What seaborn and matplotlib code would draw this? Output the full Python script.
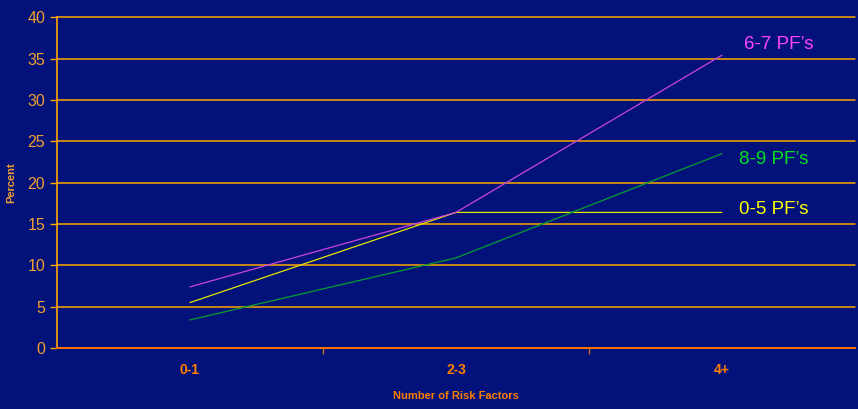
import matplotlib.pyplot as plt
import seaborn as sns
import pandas as pd

# data
categories = ["0-1", "2-3", "4+"]
series_names = ["0-5 PF\u2019s", "6-7 PF\u2019s", "8-9 PF\u2019s"]
pf_0_5 = [5.5, 16.4, 16.4]
pf_6_7 = [7.4, 16.4, 35.4]
pf_8_9 = [3.4, 10.9, 23.5]

rows = []
for name, vals in zip(series_names, [pf_0_5, pf_6_7, pf_8_9]):
    for c, v in zip(categories, vals):
        rows.append({"risk": c, "pct": v, "group": name})
df = pd.DataFrame(rows)

bg = "#02127A"
grid_col = "#FFA500"
line_cols = {series_names[0]: "#E6E600", series_names[1]: "#CC44DD", series_names[2]: "#00A030"}
text_cols = {series_names[0]: "#FFFF00", series_names[1]: "#FF44FF", series_names[2]: "#00E020"}

sns.set_style("white")
plt.rcParams['font.family'] = ['Liberation Sans', 'DejaVu Sans']

fig = plt.figure(figsize=(8.58, 4.09), dpi=100, facecolor=bg)
ax = fig.add_axes([0.0664, 0.149, 0.93, 0.809])
ax.set_facecolor(bg)

sns.lineplot(data=df, x="risk", y="pct", hue="group", palette=line_cols,
             linewidth=0.9, legend=False, ax=ax, sort=False)

ax.set_xlim(-0.5, 2.5)
ax.set_ylim(0, 40)
ax.set_yticks(range(0, 41, 5))
ax.yaxis.grid(True, color=grid_col, linewidth=1.1)
for gl in ax.get_ygridlines():
    gl.set_clip_on(False)
ax.set_axisbelow(True)

for s in ["top", "right"]:
    ax.spines[s].set_visible(False)
ax.spines["left"].set_color(grid_col)
ax.spines["left"].set_linewidth(1.2)
ax.spines["bottom"].set_color("#FF7000")
ax.spines["bottom"].set_linewidth(1.3)

ax.tick_params(axis="y", left=True, colors=grid_col, labelcolor="#F0A030", labelsize=11.5, length=5, width=1)
ax.tick_params(axis="x", which="major", bottom=True, length=0, labelcolor="#FF8000", labelsize=10, pad=11)
ax.set_xticks([0.5, 1.5], minor=True)
ax.tick_params(axis="x", which="minor", bottom=True, length=4, width=1, color="#C07020", direction="out")
for lab in ax.get_xticklabels():
    lab.set_fontweight("bold")

ax.set_xlabel("Number of Risk Factors", color="#FF8000", fontsize=8, fontweight="bold", labelpad=10)
ax.set_ylabel("Percent", color="#F0A030", fontsize=8, fontweight="bold", labelpad=8)

# end labels next to the last point of each series
offsets = {series_names[0]: 2, series_names[1]: 8, series_names[2]: -4}
for name, vals in zip(series_names, [pf_0_5, pf_6_7, pf_8_9]):
    dx = 16 if name == series_names[1] else 12
    ax.annotate(name, xy=(2, vals[-1]), xytext=(dx, offsets[name]),
                textcoords="offset points", ha="left", va="center",
                color=text_cols[name], fontsize=13.5)

plt.savefig("out.png", dpi=100, facecolor=bg)
